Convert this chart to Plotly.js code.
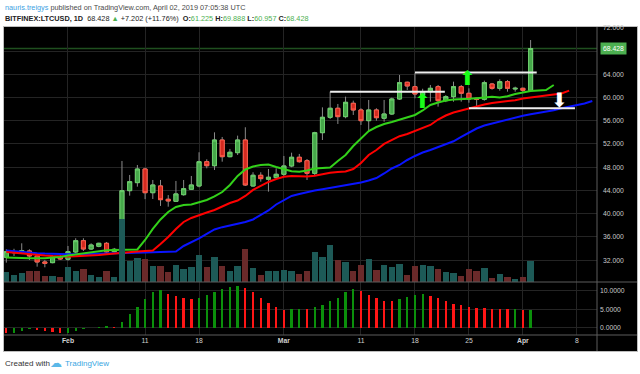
<!DOCTYPE html>
<html><head><meta charset="utf-8">
<script src="https://cdn.plot.ly/plotly-3.0.1.min.js"></script>
<style>html,body{margin:0;padding:0;background:#fff;}#chart{width:640px;height:374px;}</style>
</head><body><div id="chart"></div>
<script>
// ---- data (daily candles from 2019-01-24) ----
const firstDay = '2019-01-24';
const openP  = [32.50,33.29,33.29,33.58,32.72,31.69,31.57,32.60,32.15,33.41,35.35,33.92,34.39,34.90,33.46,33.87,43.96,45.34,47.69,43.61,44.77,42.48,42.13,43.27,44.20,44.77,48.95,48.26,52.68,49.81,50.50,52.68,44.77,46.61,45.92,46.20,46.78,48.21,49.71,49.12,46.95,53.94,56.59,58.14,56.70,59.00,57.85,56.01,57.85,56.42,57.16,59.74,62.62,61.86,60.40,61.00,61.86,59.45,60.14,61.86,60.72,59.86,59.69,62.32,61.58,62.72,61.46,61.58,61.225];
const highP  = [33.87,33.96,34.90,33.87,33.06,32.03,32.84,33.06,34.44,35.77,35.77,34.90,35.00,35.13,34.10,49.07,46.66,48.38,47.90,45.80,45.80,43.20,45.63,45.80,46.49,50.57,49.36,54.00,53.20,51.14,53.43,54.87,47.13,47.13,47.69,47.81,49.93,50.50,50.28,49.41,54.10,58.30,61.00,58.88,60.14,59.45,58.14,59.57,58.14,59.57,59.97,63.87,62.72,64.17,61.50,62.15,62.15,60.40,62.72,62.15,61.58,59.95,62.89,62.50,63.13,63.00,61.86,61.69,69.888];
const lowP   = [31.57,32.72,33.20,32.03,30.88,30.77,31.46,32.03,31.91,33.18,33.58,33.75,34.22,33.18,33.29,33.60,43.10,44.65,42.50,42.53,41.33,41.20,42.07,43.10,44.08,44.54,47.81,47.52,48.95,49.71,50.10,44.77,44.65,45.51,43.79,46.10,46.49,47.99,48.78,45.80,46.49,52.68,56.30,55.44,56.42,56.99,55.27,54.11,56.01,55.83,56.99,59.57,61.29,59.86,59.30,59.28,58.42,59.20,59.28,59.28,59.10,58.14,59.45,61.34,61.17,61.00,61.00,60.95,60.957];
const closeP = [33.46,33.46,33.63,32.72,31.69,31.46,32.60,32.20,33.46,35.35,33.92,34.61,34.90,33.41,33.87,43.96,45.51,47.69,43.61,44.94,42.41,42.19,43.40,44.30,44.94,48.95,48.26,52.68,49.81,50.57,52.68,44.94,46.61,46.03,46.27,46.78,48.21,49.71,48.95,46.95,53.94,56.59,58.14,56.70,59.17,57.85,56.01,57.85,56.52,57.16,59.74,62.55,61.98,60.60,61.00,61.58,59.45,60.14,61.86,60.72,59.74,59.69,62.55,61.58,62.72,61.58,61.58,61.23,68.428];
const volume = [10,7.3,9,11,11.3,6,6,5.3,14.7,11,13.3,7,5.3,11.3,4.7,63,21.3,24,23.3,15.7,16,10,17,13,15,27,15,24.7,15.7,11.3,15.7,33,13.7,6.7,11,11,12,10.7,8,11.3,30,25.3,37,22,20,11.3,17,23,12,17,15,18.3,7.3,16.3,17,15.7,13.3,9.7,9,6,12.7,11,14,4,8,5.3,3,5,20.7];
// Alligator lines (drawn shifted forward past the last candle)
const lips  = [32.46,32.38,32.32,32.32,32.32,32.32,32.46,32.55,32.81,32.98,33.18,33.41,33.58,33.70,33.75,33.75,33.75,33.84,35.47,37.37,39.00,40.29,41.15,41.50,41.58,41.93,42.36,42.96,43.73,44.94,46.49,47.61,48.12,48.38,48.47,48.04,47.61,47.30,47.23,47.44,47.78,47.92,47.95,49.07,50.10,51.65,53.03,54.23,54.92,55.44,55.78,56.21,56.56,56.99,57.76,58.71,59.14,59.48,59.66,59.69,59.78,59.88,60.03,60.12,60.00,60.21,60.60,60.91,61.12,61.20,61.29,62.15];
const teeth = [33.41,33.27,33.15,33.03,32.93,32.81,32.72,32.63,32.63,32.67,32.72,32.81,32.89,33.01,33.15,33.29,33.41,33.49,33.58,33.67,34.79,35.99,37.37,38.57,39.26,39.78,40.21,40.64,41.24,41.84,42.27,43.05,44.08,44.77,45.46,45.97,46.37,46.49,46.44,46.40,46.52,46.83,47.06,47.18,47.26,47.69,48.73,50.10,50.96,52.00,52.69,53.34,53.72,54.23,54.75,55.27,56.21,56.90,57.42,57.76,58.11,58.54,58.80,59.05,59.23,59.31,59.54,59.83,60.02,60.22,60.38,60.52,60.69,61.17];
const jaw   = [33.67,33.53,33.41,33.27,33.20,33.13,33.06,33.03,33.01,33.01,33.03,33.06,33.06,33.10,33.15,33.20,33.24,33.27,33.30,33.34,33.37,33.41,33.49,34.44,35.04,35.73,36.51,37.28,37.68,37.97,38.23,38.57,39.00,39.78,40.55,41.58,42.36,43.05,43.39,43.73,43.99,44.20,44.42,44.68,44.94,45.11,45.37,45.71,46.14,46.92,47.78,48.38,49.24,49.93,50.53,50.96,51.43,51.91,52.46,53.20,53.98,54.66,55.18,55.52,55.87,56.30,56.64,56.87,57.11,57.33,57.56,57.80,58.16,58.45,58.71,58.97,59.40];
const histVals = [-1.4,-1.3,-0.8,-0.4,-0.5,-0.9,-1.1,-1.4,-1.3,-0.8,-0.4,-0.1,0.2,0.4,0.3,1.6,3.6,5.5,7.7,9.7,10.1,9.2,8.6,7.9,7.7,8.0,8.9,9.7,10.5,11.0,11.4,10.8,9.6,8.0,6.8,5.6,4.9,5.0,5.15,5.1,5.5,6.1,7.1,8.0,9.6,10.5,9.9,8.8,8.1,7.3,7.1,7.7,8.3,8.8,9.2,8.7,7.9,7.1,6.4,6.1,5.7,5.35,5.3,5.1,5.0,4.95,5.0,4.7,4.75];
// drawn levels and arrows
const levelPrice = [61.00, 64.30, 58.14];
const levelStart = ['2019-03-07', '2019-03-18', '2019-03-25'];
const levelEnd   = ['2019-03-21 21:00', '2019-04-02 19:00', '2019-04-07 18:00'];
const arrowDate  = ['2019-03-19', '2019-03-24 19:00', '2019-04-05 19:00'];
const arrowPrice = [59.45, 63.30, 59.57];
const arrowDir   = ['up', 'up', 'down'];
// axis ticks
const xTickVals = ['2019-02-01','2019-02-11','2019-02-18','2019-03-01','2019-03-11','2019-03-18','2019-03-25','2019-04-01','2019-04-08'];
const xTickText = ['<b>Feb</b>','11','18','<b>Mar</b>','11','18','25','<b>Apr</b>','8'];
const priceTicks = [32,36,40,44,48,52,56,60,64,68,72];
const histTicks = [0,5,10];

// ---- helpers ----
function dayStr(i){ const d = new Date(Date.parse(firstDay + 'T00:00:00Z') + i*86400000); return d.toISOString().slice(0,10); }
const dates = (n) => Array.from({length:n}, (_, i) => dayStr(i));
const DAY = 86400000;
const L = 4, R = 597, T = 27, B = 335;
const px = x => (x - L) / (R - L);
const py = y => (B - y) / (B - T);

const nC = closeP.length;
const cd = dates(nC);
const up = closeP.map((c, i) => c >= openP[i]);
const lastClose = closeP[nC-1];

const traces = [
  { type:'bar', x:cd, y:volume, yaxis:'y2', width:0.82*DAY,
    marker:{color:up.map(u => u ? '#1d5a57' : '#6a2a2a'), line:{width:0}}, hoverinfo:'skip' },
  { type:'scatter', mode:'lines', x:dates(jaw.length), y:jaw, line:{color:'#0a14ff', width:2}, hoverinfo:'skip' },
  { type:'scatter', mode:'lines', x:dates(teeth.length), y:teeth, line:{color:'#ff0000', width:2}, hoverinfo:'skip' },
  { type:'scatter', mode:'lines', x:dates(lips.length), y:lips, line:{color:'#33d11a', width:2}, hoverinfo:'skip' },
  { type:'candlestick', x:cd, open:openP, high:highP, low:lowP, close:closeP,
    increasing:{line:{color:'#8a8a8a', width:1}, fillcolor:'#46a84a'},
    decreasing:{line:{color:'#8a8a8a', width:1}, fillcolor:'#d42a20'}, hoverinfo:'skip' },
  { type:'candlestick', x:cd, open:openP, close:closeP,
    high:openP.map((o, i) => Math.max(o, closeP[i])), low:openP.map((o, i) => Math.min(o, closeP[i])),
    increasing:{line:{color:'#6bcf6b', width:1}, fillcolor:'#46a84a'},
    decreasing:{line:{color:'#ff5a48', width:1}, fillcolor:'#d42a20'}, hoverinfo:'skip' },
  { type:'bar', x:cd, y:histVals, yaxis:'y3', width:0.3*DAY,
    marker:{color:histVals.map((v, i) => (i > 0 && v >= histVals[i-1]) ? '#0b900b' : '#ff1616'), line:{width:0}}, hoverinfo:'skip' }
];

const shapes = [
  { type:'rect', xref:'paper', yref:'paper', x0:px(3.5), x1:px(637.5), y0:py(351.5), y1:py(26.5),
    fillcolor:'#000000', line:{color:'#bdbdbd', width:1}, layer:'below' },
  { type:'line', xref:'paper', yref:'y', x0:0, x1:1, y0:lastClose, y1:lastClose, line:{color:'#1f4f1f', width:1.5}, layer:'below' },
  { type:'line', xref:'paper', yref:'paper', x0:px(4), x1:px(637), y0:py(282), y1:py(282), line:{color:'#5c5c5c', width:1} },
  { type:'line', xref:'paper', yref:'paper', x0:px(4), x1:px(637), y0:py(335), y1:py(335), line:{color:'#5c5c5c', width:1} },
  { type:'line', xref:'paper', yref:'paper', x0:1, x1:1, y0:py(351), y1:py(27), line:{color:'#5c5c5c', width:1} }
];
levelPrice.forEach((p, k) => shapes.push({ type:'line', xref:'x', yref:'y', x0:levelStart[k], x1:levelEnd[k], y0:p, y1:p, line:{color:'#eeeeee', width:2} }));

const G = "<span style='color:#4caf50'>";
const annotations = [
  { xref:'paper', yref:'paper', x:px(3), y:py(7.5), xanchor:'left', yanchor:'middle', showarrow:false,
    text:"<span style='color:#3c9fe3'>nauris.treigys</span> published on TradingView.com, April 02, 2019 07:05:38 UTC",
    font:{size:7.3, color:'#4a4a4a'} },
  { xref:'paper', yref:'paper', x:px(3), y:py(18.5), xanchor:'left', yanchor:'middle', showarrow:false,
    text:"<b>BITFINEX:LTCUSD, 1D</b>  68.428 " + G + "▲</span> +7.202 (+11.76%)  <b>O:</b>" + G + "61.225</span> <b>H:</b>" + G + "69.888</span> <b>L:</b>" + G + "60.957</span> <b>C:</b>" + G + "68.428</span>",
    font:{size:7.3, color:'#222222'} },
  { xref:'paper', yref:'paper', x:px(3), y:py(363.5), xanchor:'left', yanchor:'middle', showarrow:false,
    text:'Created with', font:{size:8, color:'#333333'} },
  { xref:'paper', yref:'paper', x:px(48), y:py(363), xanchor:'left', yanchor:'middle', showarrow:false,
    text:'☁', font:{size:12, color:'#5bb8e8', family:'DejaVu Sans'} },
  { xref:'paper', yref:'paper', x:px(63), y:py(363.5), xanchor:'left', yanchor:'middle', showarrow:false,
    text:'TradingView', font:{size:8, color:'#3aa6e2'} },
  { xref:'paper', yref:'y', x:px(599.5), y:lastClose, xanchor:'left', yanchor:'middle', showarrow:false,
    text:lastClose.toFixed(3), bgcolor:'#4caf50', borderpad:2, font:{size:6.8, color:'#ffffff'} }
];
arrowDate.forEach((d, k) => annotations.push({ xref:'x', yref:'y', x:d, y:arrowPrice[k], showarrow:false,
  xanchor:'center', yanchor:'middle', text: arrowDir[k] === 'up' ? '⬆' : '⬇',
  font:{size:20, family:'DejaVu Sans', color: arrowDir[k] === 'up' ? '#19ff19' : '#ffffff'} }));

const layout = {
  width:640, height:374, margin:{l:L, r:640-R, t:T, b:374-B},
  paper_bgcolor:'#ffffff', plot_bgcolor:'#000000', showlegend:false,
  font:{family:'Liberation Sans, Arial, sans-serif', size:7, color:'#c8c8c8'},
  xaxis:{ type:'date', anchor:'y3', range:['2019-01-23 16:50','2019-04-10 14:38'],
    tickmode:'array', tickvals:xTickVals, ticktext:xTickText, ticks:'',
    showgrid:true, gridcolor:'#242424', gridwidth:1, zeroline:false, showline:false,
    tickfont:{size:6.8, color:'#d0d0d0'}, rangeslider:{visible:false}, fixedrange:true },
  yaxis:{ domain:[py(282), 1], range:[28.24, 72.13], side:'right', tickmode:'array', tickvals:priceTicks,
    ticktext:priceTicks.map(v => Math.abs(v - lastClose) < 2 ? '' : v.toFixed(3)), ticks:'', ticklabelstandoff:5,
    showgrid:true, gridcolor:'#242424', zeroline:false, showline:false, tickfont:{size:6.8, color:'#c8c8c8'}, fixedrange:true },
  yaxis2:{ overlaying:'y', range:[0, 255], visible:false, fixedrange:true },
  yaxis3:{ domain:[0, py(282)], range:[-1.97, 12.35], side:'right', tickmode:'array', tickvals:histTicks,
    ticktext:histTicks.map(v => v.toFixed(4)), ticks:'', ticklabelstandoff:2,
    showgrid:true, gridcolor:'#242424', zeroline:false, showline:false, tickfont:{size:6.8, color:'#c8c8c8'}, fixedrange:true },
  shapes, annotations, bargap:0, boxgap:0.25
};

Plotly.newPlot('chart', traces, layout, {staticPlot:true, displayModeBar:false});
</script></body></html>
